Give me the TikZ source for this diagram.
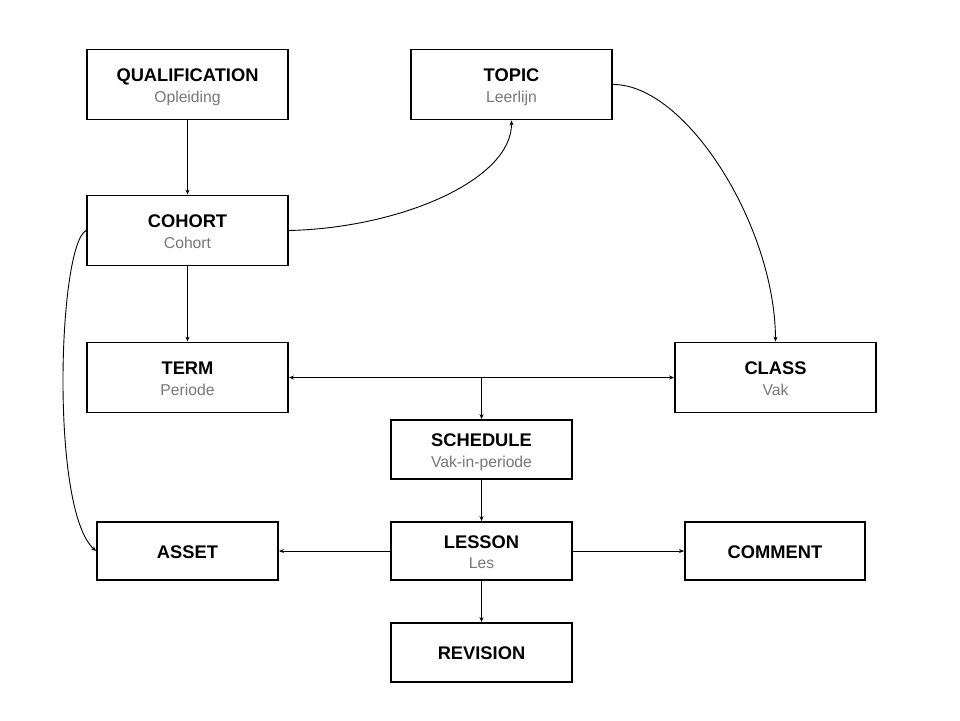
\documentclass[tikz,border=0pt]{standalone}
\usepackage{fontspec}
\setmainfont{Liberation Sans}
\usetikzlibrary{arrows.meta}
\definecolor{subgray}{HTML}{777777}
\tikzset{
  entbox/.style={draw=black, line width=1.8pt, minimum width=201pt, minimum height=70pt, inner sep=0pt},
  smallbox/.style={draw=black, line width=1.8pt, minimum width=181pt, minimum height=58pt, inner sep=0pt},
  ttl/.style={anchor=base, inner sep=0pt, font=\fontsize{18.3}{21}\selectfont\bfseries},
  sub/.style={anchor=base, inner sep=0pt, text=subgray, font=\fontsize{15.7}{19}\selectfont},
  conn/.style={line width=0.9pt, -{Stealth[length=5pt,width=4pt]}}
}
\begin{document}
\begin{tikzpicture}[x=1pt,y=-1pt]
\useasboundingbox (0,0) rectangle (960,720);
% boxes
\node[entbox] (qual) at (187.5,84.5) {};
\node[entbox] (topic) at (511.5,84.5) {};
\node[entbox] (cohort) at (187.5,230.5) {};
\node[entbox] (term) at (187.5,377.5) {};
\node[entbox] (class) at (775.5,377.5) {};
\node[smallbox, minimum height=59pt] (schedule) at (481.5,449.5) {};
\node[smallbox] (lesson) at (481.5,551) {};
\node[smallbox, minimum height=59pt] (revision) at (481.5,652.5) {};
\node[smallbox] (asset) at (187.5,551) {};
\node[smallbox, minimum width=180pt] (comment) at (775,551) {};
% texts
\node[ttl] (qualT) at ([yshift=2.7pt]qual.center) {QUALIFICATION};
\node[sub] (qualS) at ([yshift=-17.5pt]qual.center) {Opleiding};
\node[ttl] (topicT) at ([yshift=2.7pt]topic.center) {TOPIC};
\node[sub] (topicS) at ([yshift=-17.5pt]topic.center) {Leerlijn};
\node[ttl] (cohortT) at ([yshift=2.7pt]cohort.center) {COHORT};
\node[sub] (cohortS) at ([yshift=-17.5pt]cohort.center) {Cohort};
\node[ttl] (termT) at ([yshift=2.7pt]term.center) {TERM};
\node[sub] (termS) at ([yshift=-17.5pt]term.center) {Periode};
\node[ttl] (classT) at ([yshift=2.7pt]class.center) {CLASS};
\node[sub] (classS) at ([yshift=-17.5pt]class.center) {Vak};
\node[ttl] (scheduleT) at ([yshift=2.7pt]schedule.center) {SCHEDULE};
\node[sub] (scheduleS) at ([yshift=-17.5pt]schedule.center) {Vak-in-periode};
\node[ttl] (lessonT) at ([yshift=2.2pt]lesson.center) {LESSON};
\node[sub] (lessonS) at ([yshift=-17.3pt]lesson.center) {Les};
\node[ttl] (assetT) at ([yshift=-7pt]asset.center) {ASSET};
\node[ttl] (commentT) at ([yshift=-7pt]comment.center) {COMMENT};
\node[ttl] (revisionT) at ([yshift=-7pt]revision.center) {REVISION};
% connectors
\coordinate (junc) at (schedule.north |- term.east);
\draw[conn] (qual) -- (cohort);
\draw[conn] (cohort) -- (term);
\draw[conn] (junc) -- (term.east);
\draw[conn] (junc) -- (class.west);
\draw[conn] (junc) -- (schedule.north);
\draw[conn] (schedule) -- (lesson);
\draw[conn] (lesson) -- (revision);
\draw[conn] (lesson.west) -- (asset.east);
\draw[conn] (lesson.east) -- (comment.west);
\draw[conn] (cohort.east) .. controls (400,228) and (512,180) .. (topic.south);
\draw[conn] (topic.east) .. controls (686,84) and (775,226) .. (class.north);
\draw[conn] (cohort.west) .. controls (58,245) and (50,510) .. (asset.west);
\end{tikzpicture}
\end{document}
